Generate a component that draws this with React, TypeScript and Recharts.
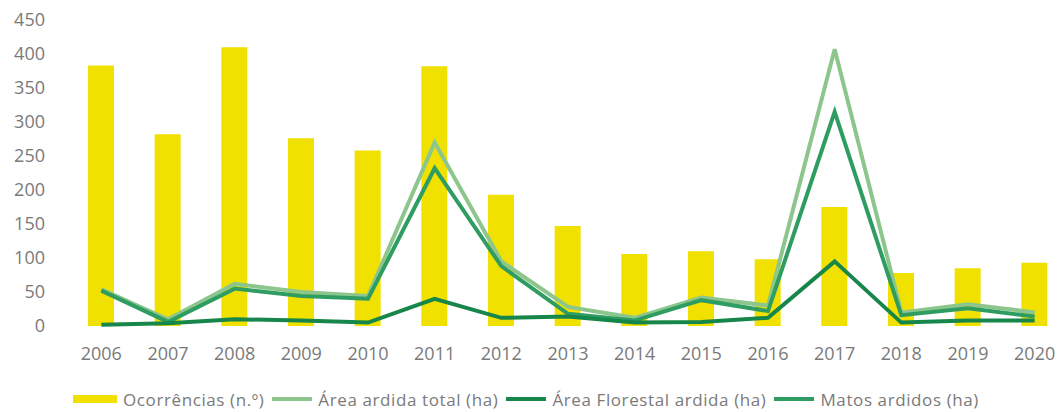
import React from 'react';
import {
  ComposedChart,
  Bar,
  Line,
  XAxis,
  YAxis,
  Legend,
} from 'recharts';

const years = ['2006', '2007', '2008', '2009', '2010', '2011', '2012', '2013', '2014', '2015', '2016', '2017', '2018', '2019', '2020'];
const ocorrencias = [383, 282, 410, 276, 258, 382, 193, 147, 106, 110, 98, 175, 78, 85, 93];
const areaTotal = [54, 10, 62, 50, 44, 270, 95, 28, 12, 42, 30, 407, 20, 32, 20];
const areaFlorestal = [2, 4, 10, 8, 5, 40, 12, 14, 5, 6, 12, 95, 5, 8, 8];
const matos = [52, 6, 55, 44, 40, 232, 88, 18, 8, 38, 22, 315, 16, 26, 14];
const yTicks = [0, 50, 100, 150, 200, 250, 300, 350, 400, 450];

const data = years.map((year, i) => ({
  year,
  ocorrencias: ocorrencias[i],
  total: areaTotal[i],
  florestal: areaFlorestal[i],
  matos: matos[i],
}));

const YELLOW = '#f0e100';
const TOTAL = '#8cc68c';
const FLORESTAL = '#17864a';
const MATOS = '#2f9d62';
const TEXT = '#7a7a7a';
const FONT = '"Open Sans", sans-serif';

const legendItems = [
  { label: 'Ocorrências (n.º)', color: YELLOW, bar: true },
  { label: 'Área ardida total (ha)', color: TOTAL, bar: false },
  { label: 'Área Florestal ardida (ha)', color: FLORESTAL, bar: false },
  { label: 'Matos ardidos (ha)', color: MATOS, bar: false },
];

const LegendContent = () => (
  <div
    style={{
      height: 36,
      display: 'flex',
      justifyContent: 'center',
      alignItems: 'center',
      paddingTop: 10,
      boxSizing: 'border-box',
      fontFamily: FONT,
      fontSize: 17,
      letterSpacing: 0.6,
      color: TEXT,
      marginLeft: -8,
    }}
  >
    {legendItems.map((item) => (
      <div key={item.label} style={{ display: 'flex', alignItems: 'center', marginRight: 8 }}>
        <span
          style={{
            display: 'inline-block',
            width: item.bar ? 44 : 40,
            height: item.bar ? 8 : 4,
            background: item.color,
            marginRight: 6,
          }}
        />
        <span>{item.label}</span>
      </div>
    ))}
  </div>
);

export default function App() {
  return (
    <div
      style={{
        position: 'absolute',
        top: 0,
        left: 0,
        width: 1062,
        height: 412,
        overflow: 'hidden',
        background: '#fff',
      }}
    >
      <ComposedChart
        width={1072}
        height={412}
        data={data}
        margin={{ top: 20, right: 4, left: 0, bottom: 0 }}
      >
        <XAxis
          dataKey="year"
          axisLine={false}
          tickLine={false}
          tickSize={0}
          tickMargin={21}
          height={50}
          interval={0}
          tick={{ fill: TEXT, fontSize: 18, fontFamily: FONT }}
        />
        <YAxis
          domain={[0, 450]}
          ticks={yTicks}
          axisLine={false}
          tickLine={false}
          tickSize={0}
          tickMargin={23}
          width={68}
          interval={0}
          tick={{ fill: TEXT, fontSize: 18, fontFamily: FONT }}
        />
        <Legend verticalAlign="bottom" content={<LegendContent />} />
        <Bar dataKey="ocorrencias" fill={YELLOW} barSize={26} isAnimationActive={false} />
        <Line dataKey="total" stroke={TOTAL} strokeWidth={4} dot={false} isAnimationActive={false} />
        <Line dataKey="matos" stroke={MATOS} strokeWidth={4} dot={false} isAnimationActive={false} />
        <Line dataKey="florestal" stroke={FLORESTAL} strokeWidth={4} dot={false} isAnimationActive={false} />
      </ComposedChart>
    </div>
  );
}
